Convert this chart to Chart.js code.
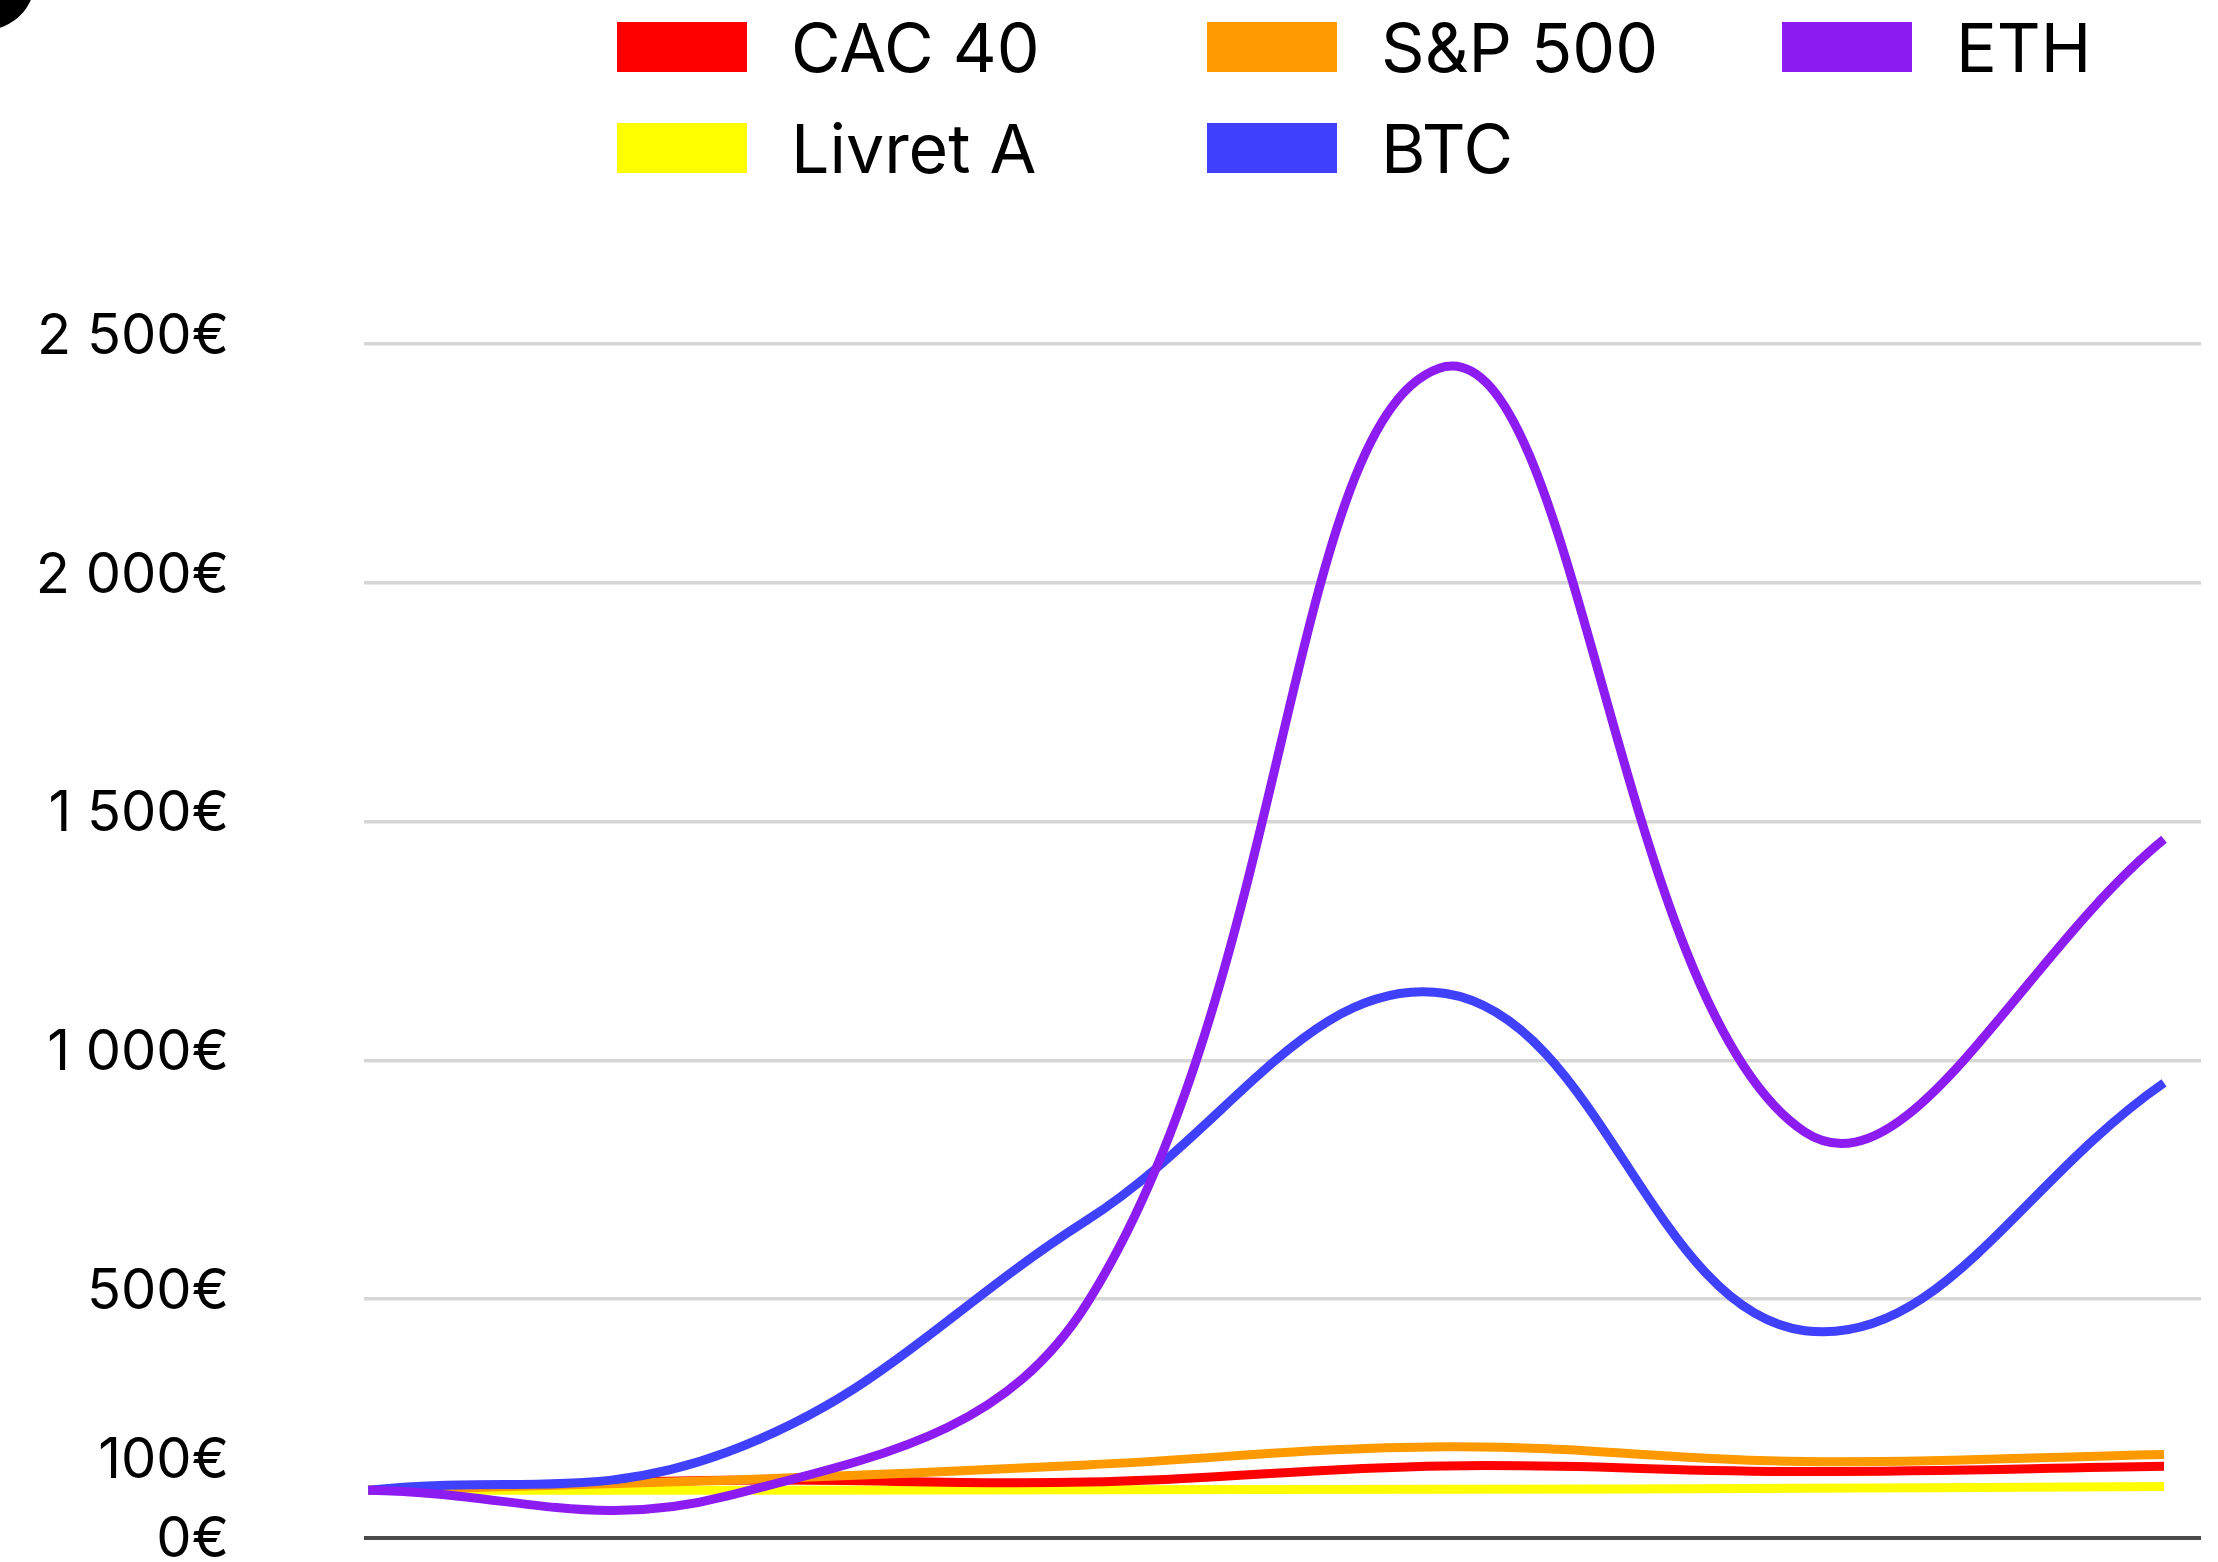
<!DOCTYPE html>
<html><head><meta charset="utf-8">
<script src="https://cdn.jsdelivr.net/npm/chart.js@4.4.1/dist/chart.umd.min.js"></script>
<style>
html,body{margin:0;padding:0;background:#fff;}
#wrap{position:relative;width:2218px;height:1562px;overflow:hidden;background:#fff;}
#dot{position:absolute;left:-65px;top:-70px;width:100px;height:100px;border-radius:50%;background:#000;}
#legend{position:absolute;left:617px;top:-4px;display:grid;grid-template-columns:590px 575px auto;grid-auto-rows:101px;font-family:Inter,sans-serif;font-size:68px;color:#000;}
.item{display:flex;align-items:center;}
.box{width:130px;height:50px;margin-right:44px;flex:none;}
.lbl{line-height:1;white-space:nowrap;}
canvas{position:absolute;left:0;top:0;}
</style></head>
<body><div id="wrap"><canvas id="c" width="2218" height="1562"></canvas><div id="dot"></div><div id="legend"></div></div>
<script>
const steps = [0, 1, 2, 3, 4, 5];
const cac40 = [100, 121, 117, 151, 139, 150];
const sp500 = [100, 121, 153, 191, 160, 175];
const eth = [100, 88, 490, 2453, 850, 1463];
const livretA = [100, 100, 101, 102, 104, 108];
const btc = [100, 180, 665, 1140, 434, 953];
const yTicks = [0, 500, 1000, 1500, 2000, 2500];
const yTickLabels = ['0€', '500€', '1 000€', '1 500€', '2 000€', '2 500€'];
const extraTick = 100;
const extraTickLabel = '100€';
const legendOrder = ['CAC 40', 'S&P 500', 'ETH', 'Livret A', 'BTC'];

const series = [
  { label: 'ETH', data: eth, color: '#8c1cf2' },
  { label: 'BTC', data: btc, color: '#4040ff' },
  { label: 'S&P 500', data: sp500, color: '#ff9900' },
  { label: 'CAC 40', data: cac40, color: '#ff0000' },
  { label: 'Livret A', data: livretA, color: '#ffff00' }
];

const LABEL_PAD = 135;

const extraLabelPlugin = {
  id: 'extraLabel',
  afterDraw(chart) {
    const ys = chart.scales.y;
    const c = chart.ctx;
    c.save();
    c.font = '56px Inter';
    c.fillStyle = '#000';
    c.textAlign = 'right';
    c.textBaseline = 'middle';
    const x = ys.right - LABEL_PAD;
    c.fillText(extraTickLabel, x, ys.getPixelForValue(extraTick) - 29);
    c.fillText(yTickLabels[0], x, ys.getPixelForValue(yTicks[0]) + 2);
    c.restore();
  }
};

function draw() {
  const chart = new Chart(document.getElementById('c'), {
    type: 'line',
    data: {
      datasets: series.map(s => ({
        label: s.label,
        data: steps.map((x, i) => ({ x: x, y: s.data[i] })),
        borderColor: s.color,
        backgroundColor: s.color,
        borderWidth: 9,
        pointRadius: 0,
        tension: 0.4,
        fill: false
      }))
    },
    options: {
      responsive: false,
      animation: false,
      devicePixelRatio: 1,
      layout: { padding: { top: 344, bottom: 24, left: 0, right: 17 } },
      plugins: { legend: { display: false }, tooltip: { enabled: false } },
      scales: {
        x: { type: 'linear', display: false, min: -0.012, max: 5.103 },
        y: {
          min: 0, max: 2500,
          afterBuildTicks: s => { s.ticks = yTicks.map(v => ({ value: v })); },
          afterFit: s => { s.width = 364; s.paddingTop = 0; s.paddingBottom = 0; },
          border: { display: false },
          grid: {
            drawTicks: false,
            color: c => (c.tick && c.tick.value === 0) ? '#4a4a4a' : '#d6d6d6',
            lineWidth: c => (c.tick && c.tick.value === 0) ? 4 : 3.5
          },
          ticks: {
            padding: LABEL_PAD,
            color: '#000',
            labelOffset: -7,
            font: { family: 'Inter', size: 56, lineHeight: 0.8 },
            callback: v => (v === yTicks[0] ? '' : yTickLabels[yTicks.indexOf(v)])
          }
        }
      }
    },
    plugins: [extraLabelPlugin]
  });

  const legend = document.getElementById('legend');
  legendOrder.forEach(name => {
    const ds = chart.data.datasets.find(d => d.label === name);
    const item = document.createElement('div');
    item.className = 'item';
    const box = document.createElement('div');
    box.className = 'box';
    box.style.background = ds.borderColor;
    const lbl = document.createElement('span');
    lbl.className = 'lbl';
    lbl.textContent = ds.label;
    item.appendChild(box);
    item.appendChild(lbl);
    legend.appendChild(item);
  });
}
(document.fonts && document.fonts.ready ? document.fonts.ready : Promise.resolve()).then(draw);
</script>
</body></html>
